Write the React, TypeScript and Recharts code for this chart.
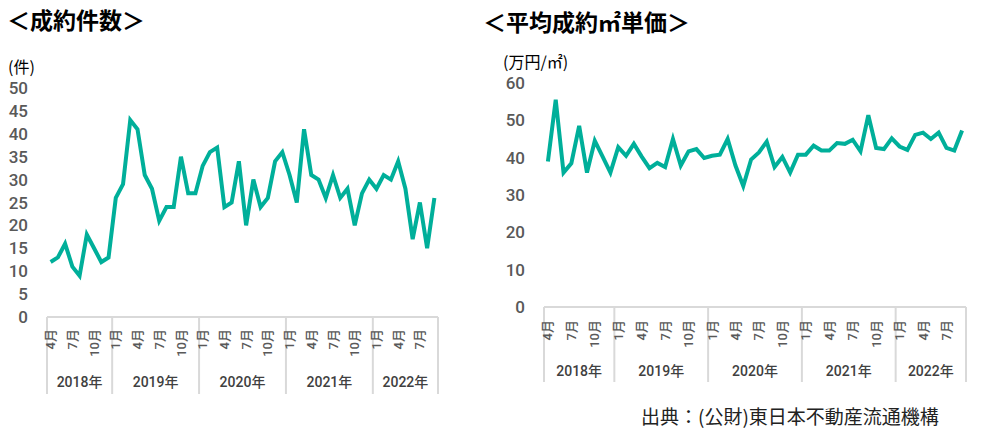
import React from 'react';
import { LineChart, Line, XAxis, YAxis } from 'recharts';

const PERIODS = [
  '2018/4', '2018/5', '2018/6', '2018/7', '2018/8', '2018/9', '2018/10', '2018/11', '2018/12',
  '2019/1', '2019/2', '2019/3', '2019/4', '2019/5', '2019/6', '2019/7', '2019/8', '2019/9', '2019/10', '2019/11', '2019/12',
  '2020/1', '2020/2', '2020/3', '2020/4', '2020/5', '2020/6', '2020/7', '2020/8', '2020/9', '2020/10', '2020/11', '2020/12',
  '2021/1', '2021/2', '2021/3', '2021/4', '2021/5', '2021/6', '2021/7', '2021/8', '2021/9', '2021/10', '2021/11', '2021/12',
  '2022/1', '2022/2', '2022/3', '2022/4', '2022/5', '2022/6', '2022/7', '2022/8', '2022/9',
];

const COUNTS = [
  12, 13, 16, 11, 9, 18, 15, 12, 13,
  26, 29, 43, 41, 31, 28, 21, 24, 24, 35, 27, 27,
  33, 36, 37, 24, 25, 34, 20, 30, 24, 26, 34, 36,
  31, 25, 41, 31, 30, 26, 31, 26, 28, 20, 27, 30,
  28, 31, 30, 34, 28, 17, 25, 15, 26,
];

const PRICES = [
  39, 55.5, 36, 38.5, 48.5, 36, 44.5, 40.3, 36,
  42.8, 40.5, 43.7, 40.3, 37.2, 38.6, 37.5, 45, 37.9, 41.7, 42.3, 39.9,
  40.5, 40.8, 45, 37.9, 32.4, 39.5, 41.4, 44.3, 37.5, 40.2, 36, 40.8,
  40.8, 43.2, 41.9, 41.9, 43.9, 43.7, 44.8, 41.7, 51.4, 42.6, 42.3, 45.2,
  43, 42.1, 46.1, 46.7, 45, 46.7, 42.6, 41.9, 47.3,
];

const COUNT_TICKS = [0, 5, 10, 15, 20, 25, 30, 35, 40, 45, 50];
const PRICE_TICKS = [0, 10, 20, 30, 40, 50, 60];
const MONTH_LABELS = [1, 4, 7, 10];
const YEAR_SUFFIX = '年';
const MONTH_SUFFIX = '月';

const rows = PERIODS.map((p, i) => ({ period: p, count: COUNTS[i], price: PRICES[i] }));

const LINE_COLOR = '#00AF9A';
const AXIS_COLOR = '#D9D9D9';
const TICK_COLOR = '#595959';
const NUM_FONT = "Roboto, 'Noto Sans CJK JP', sans-serif";
const JP_FONT = "'Noto Sans CJK JP', sans-serif";

function parse(i: number) {
  const [y, m] = PERIODS[i].split('/');
  return { y, m: Number(m) };
}

function makeTick(bw: number, sepLen: number, monthDy: number, yearDy: number) {
  return (props: any) => {
    const { x, y, index } = props;
    const { y: yr, m } = parse(index);
    const els: any[] = [];
    const isFirst = index === 0 || parse(index - 1).y !== yr;
    const isLast = index === PERIODS.length - 1;
    if (isFirst) {
      const n = PERIODS.filter((p) => p.startsWith(yr + '/')).length;
      els.push(<line key="s" x1={x - bw / 2} x2={x - bw / 2} y1={y} y2={y + sepLen} stroke={AXIS_COLOR} strokeWidth={2} />);
      els.push(
        <text key="y" x={x - bw / 2 + (n * bw) / 2} y={y + yearDy} textAnchor="middle" fontSize={14} fontWeight={500} fill="#404040" fontFamily={NUM_FONT}>
          {yr + YEAR_SUFFIX}
        </text>
      );
    }
    if (isLast) {
      els.push(<line key="e" x1={x + bw / 2} x2={x + bw / 2} y1={y} y2={y + sepLen} stroke={AXIS_COLOR} strokeWidth={2} />);
    }
    if (MONTH_LABELS.includes(m)) {
      const ty = y + monthDy;
      els.push(
        <text key="m" x={x} y={ty} transform={`rotate(-90 ${x} ${ty})`} textAnchor="end" dy="0.35em" fontSize={13} fontWeight={500} fill={TICK_COLOR} fontFamily={NUM_FONT}>
          {m + MONTH_SUFFIX}
        </text>
      );
    }
    return <g>{els}</g>;
  };
}

const L_W = 460;
const L_PLOT = 391;
const R_W = 490;
const R_PLOT = 422;
const N = PERIODS.length;
const L_BW = L_PLOT / N;
const R_BW = R_PLOT / N;

export default function App() {
  return (
    <div style={{ position: 'absolute', left: 0, top: 0, width: 984, height: 438, background: '#fff', overflow: 'hidden' }}>
      <div style={{ position: 'absolute', left: 0, top: 0 }}>
        <LineChart width={L_W} height={438} data={rows} margin={{ top: 88, right: 22, left: 7, bottom: 91 }}>
          <XAxis
            dataKey="period"
            interval={0}
            height={30}
            tickSize={0}
            tickMargin={0}
            tickLine={false}
            axisLine={{ stroke: AXIS_COLOR, strokeWidth: 2 }}
            padding={{ left: L_BW / 2, right: L_BW / 2 }}
            tick={makeTick(L_BW, 77, 12, 70)}
          />
          <YAxis
            width={40}
            domain={[0, 50]}
            ticks={COUNT_TICKS}
            interval={0}
            axisLine={false}
            tickLine={false}
            tickSize={0}
            tickMargin={19}
            tick={{ fill: TICK_COLOR, fontSize: 17, fontWeight: 500, fontFamily: NUM_FONT }}
          />
          <Line type="linear" dataKey="count" stroke={LINE_COLOR} strokeWidth={4} dot={false} isAnimationActive={false} />
        </LineChart>
      </div>
      <div style={{ position: 'absolute', left: 490, top: 0 }}>
        <LineChart width={R_W} height={438} data={rows} margin={{ top: 83, right: 14, left: 14, bottom: 101 }}>
          <XAxis
            dataKey="period"
            interval={0}
            height={30}
            tickSize={0}
            tickMargin={0}
            tickLine={false}
            axisLine={{ stroke: AXIS_COLOR, strokeWidth: 2 }}
            padding={{ left: R_BW / 2, right: R_BW / 2 }}
            tick={makeTick(R_BW, 75, 13, 69)}
          />
          <YAxis
            width={40}
            domain={[0, 60]}
            ticks={PRICE_TICKS}
            interval={0}
            axisLine={false}
            tickLine={false}
            tickSize={0}
            tickMargin={19}
            tick={{ fill: TICK_COLOR, fontSize: 17, fontWeight: 500, fontFamily: NUM_FONT }}
          />
          <Line type="linear" dataKey="price" stroke={LINE_COLOR} strokeWidth={4} dot={false} isAnimationActive={false} />
        </LineChart>
      </div>
      <svg width={984} height={438} style={{ position: 'absolute', left: 0, top: 0, pointerEvents: 'none' }}>
        <text x={7} y={29} fontSize={23} fontWeight={700} fill="#000" fontFamily={JP_FONT}>＜成約件数＞</text>
        <text x={8} y={73} fontSize={16} fill="#000" fontFamily={JP_FONT}>(件)</text>
        <text x={483} y={31} fontSize={23} fontWeight={700} fill="#000" fontFamily={JP_FONT}>＜平均成約㎡単価＞</text>
        <text x={503} y={68} fontSize={16} fill="#000" fontFamily={JP_FONT}>(万円/㎡)</text>
        <text x={641} y={424} fontSize={19} fill="#222" fontFamily={JP_FONT}>出典：(公財)東日本不動産流通機構</text>
      </svg>
    </div>
  );
}
